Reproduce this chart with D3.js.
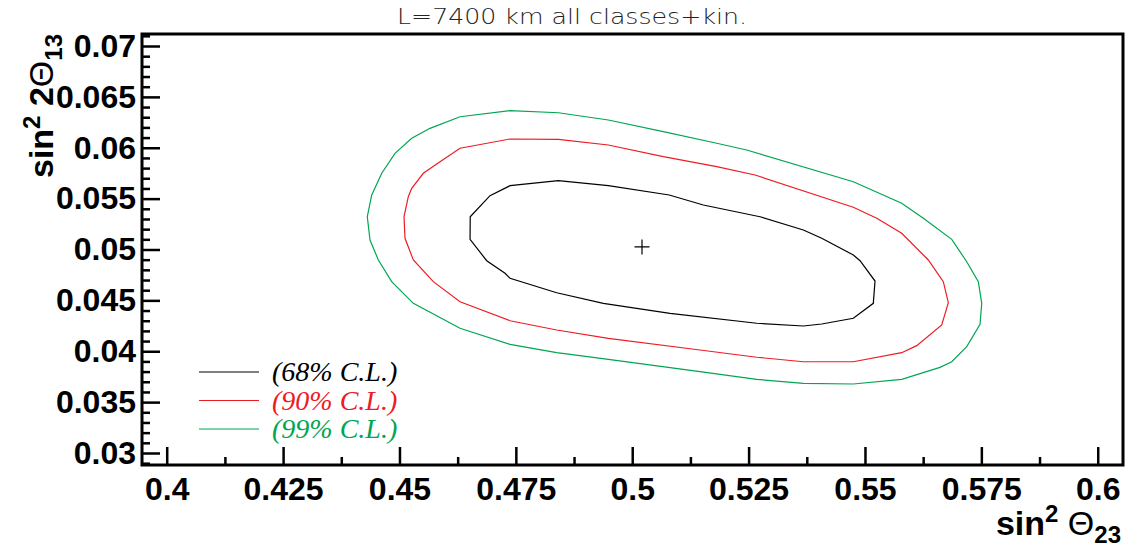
<!DOCTYPE html>
<html>
<head>
<meta charset="utf-8">
<script src="https://cdn.jsdelivr.net/npm/d3@7"></script>
<style>
  body { margin: 0; background: #fff; }
</style>
</head>
<body>
<svg id="chart" width="1139" height="551"></svg>
<script>
const xMajor = [0.4, 0.425, 0.45, 0.475, 0.5, 0.525, 0.55, 0.575, 0.6]
const xMinor = [0.4125, 0.4375, 0.4625, 0.4875, 0.5125, 0.5375, 0.5625, 0.5875]
const yMajor = [0.03, 0.035, 0.04, 0.045, 0.05, 0.055, 0.06, 0.065, 0.07]
const yMinor = [0.029, 0.031, 0.032, 0.033, 0.034, 0.036, 0.037, 0.038, 0.039, 0.041, 0.042, 0.043, 0.044,
  0.046, 0.047, 0.048, 0.049, 0.051, 0.052, 0.053, 0.054, 0.056, 0.057, 0.058, 0.059,
  0.061, 0.062, 0.063, 0.064, 0.066, 0.067, 0.068, 0.069, 0.071]

// best fit point
const bestFit = [0.5021, 0.05025]

// contours, [sin^2 th23, sin^2 2th13]
const cl68 = [
  [0.4652, 0.05322], [0.46945, 0.05529], [0.47375, 0.05627], [0.48413, 0.05676], [0.49487, 0.05627],
  [0.50795, 0.05536], [0.51527, 0.05437], [0.52745, 0.05322], [0.53676, 0.05192], [0.54071, 0.0511],
  [0.5475, 0.04946], [0.54894, 0.0489], [0.55216, 0.0469], [0.55179, 0.04471], [0.5475, 0.04324],
  [0.54071, 0.04268], [0.53676, 0.04248], [0.52675, 0.04275], [0.50812, 0.04373], [0.49379, 0.04471],
  [0.48378, 0.04575], [0.47375, 0.04717], [0.47268, 0.04766], [0.46874, 0.0489], [0.46516, 0.051]
]
const cl90 = [
  [0.45098, 0.05322], [0.4519, 0.05519], [0.45263, 0.05601], [0.45512, 0.05749], [0.45871, 0.05863],
  [0.46301, 0.05995], [0.47375, 0.06086], [0.48413, 0.06083], [0.49487, 0.06027], [0.50668, 0.05912],
  [0.51815, 0.05814], [0.52638, 0.05732], [0.5475, 0.05415], [0.55253, 0.05307], [0.55789, 0.05159],
  [0.56361, 0.04897], [0.56683, 0.04684], [0.56791, 0.04477], [0.56649, 0.04258], [0.56112, 0.04055],
  [0.55789, 0.03986], [0.5475, 0.03897], [0.53676, 0.03897], [0.52675, 0.03941], [0.51456, 0.04012],
  [0.49487, 0.04127], [0.48378, 0.04209], [0.47375, 0.043], [0.46301, 0.04487], [0.45727, 0.04684],
  [0.45298, 0.04897], [0.45119, 0.0511]
]
const cl99 = [
  [0.44309, 0.05322], [0.44404, 0.05536], [0.44619, 0.05749], [0.44904, 0.05945], [0.45263, 0.06093],
  [0.45656, 0.06191], [0.46301, 0.06305], [0.47375, 0.06364], [0.48413, 0.06344], [0.49487, 0.06273],
  [0.50668, 0.06158], [0.51815, 0.06044], [0.5246, 0.05978], [0.5475, 0.05666], [0.55789, 0.05454],
  [0.56254, 0.05307], [0.56864, 0.051], [0.57186, 0.0488], [0.57435, 0.04684], [0.57508, 0.04471],
  [0.57472, 0.04265], [0.57186, 0.04045], [0.56864, 0.03897], [0.56612, 0.03842], [0.55789, 0.03724],
  [0.5475, 0.03678], [0.53676, 0.03685], [0.52675, 0.03724], [0.51456, 0.03799], [0.49487, 0.03921],
  [0.48378, 0.03986], [0.47375, 0.04068], [0.46301, 0.04226], [0.45298, 0.04471], [0.44833, 0.04684],
  [0.44546, 0.04897], [0.44367, 0.05093]
]
const contours = [cl68, cl90, cl99]
const legendLabels = ["(68% C.L.)", "(90% C.L.)", "(99% C.L.)"]
const colors = ["#000000", "#ed1c24", "#00a650"]

let svg = d3.select("#chart")
let width = +svg.attr("width")
let height = +svg.attr("height")
let margin = { top: 34, right: 16, bottom: 86, left: 142 }
let w = width - margin.left - margin.right
let h = height - margin.top - margin.bottom

let xScale = d3.scaleLinear().domain([0.39469, 0.60543]).range([0, w])
let yScale = d3.scaleLinear().domain([0.02882, 0.07118]).range([h, 0])

let pane = svg.append("g").attr("transform", `translate(${margin.left}, ${margin.top})`)

// title
svg.append("text")
  .attr("x", 572)
  .attr("y", 24)
  .attr("text-anchor", "middle")
  .attr("font-family", "DejaVu Sans")
  .attr("font-weight", 200)
  .attr("font-size", "21px")
  .attr("textLength", 350)
  .attr("lengthAdjust", "spacingAndGlyphs")
  .attr("fill", "#222")
  .text("L=7400 km all classes+kin.")

// axes, ticks point inward
let fmt = d => d3.format("")(+d.toFixed(4))
let xg = pane.append("g").attr("transform", `translate(0, ${h})`)
xg.call(d3.axisBottom(xScale).tickValues(xMajor).tickSize(-18).tickPadding(12).tickFormat(fmt))
xg.append("g").call(d3.axisBottom(xScale).tickValues(xMinor).tickSize(-8).tickFormat(""))
let yg = pane.append("g")
yg.call(d3.axisLeft(yScale).tickValues(yMajor).tickSize(-18).tickPadding(6).tickFormat(fmt))
yg.append("g").call(d3.axisLeft(yScale).tickValues(yMinor).tickSize(-8).tickFormat(""))

pane.selectAll(".domain").remove()
pane.selectAll(".tick line").attr("stroke", "#000").attr("stroke-width", 2.5)
pane.selectAll(".tick text")
  .attr("font-family", "'Liberation Sans', Arial, sans-serif")
  .attr("font-weight", "bold")
  .attr("font-size", "32px")
  .attr("fill", "#000")

// frame
pane.append("rect")
  .attr("width", w)
  .attr("height", h)
  .attr("fill", "none")
  .attr("stroke", "#000")
  .attr("stroke-width", 3)

// contours
let line = d3.line()
  .x(d => xScale(d[0]))
  .y(d => yScale(d[1]))
  .curve(d3.curveLinearClosed)
pane.selectAll(".contour")
  .data(contours)
  .enter()
  .append("path")
  .classed("contour", true)
  .attr("d", d => line(d))
  .attr("fill", "none")
  .attr("stroke", (d, i) => colors[i])
  .attr("stroke-width", 1.2)

// best fit marker
let bx = xScale(bestFit[0])
let by = yScale(bestFit[1])
pane.append("path")
  .attr("d", `M${bx - 7.5},${by}H${bx + 7.5}M${bx},${by - 7.5}V${by + 7.5}`)
  .attr("stroke", "#000")
  .attr("stroke-width", 1.2)

// legend
let legend = svg.append("g").attr("transform", "translate(199, 372)")
let item = legend.selectAll(".item")
  .data(legendLabels)
  .enter()
  .append("g")
  .classed("item", true)
  .attr("transform", (d, i) => `translate(0, ${i * 28.5})`)
item.append("line")
  .attr("x1", 0)
  .attr("x2", 60)
  .attr("stroke", (d, i) => colors[i])
  .attr("stroke-width", 1.2)
item.append("text")
  .attr("x", 73)
  .attr("dy", "0.33em")
  .attr("font-family", "'Liberation Serif', 'Times New Roman', serif")
  .attr("font-style", "italic")
  .attr("font-size", "28px")
  .attr("fill", (d, i) => colors[i])
  .text(d => d)

// axis titles
let xt = svg.append("text")
  .attr("x", margin.left + w - 2)
  .attr("y", 535)
  .attr("text-anchor", "end")
  .attr("font-family", "'Liberation Sans', Arial, sans-serif")
  .attr("font-weight", "bold")
  .attr("font-size", "34px")
xt.append("tspan").text("sin")
xt.append("tspan").attr("dy", -13).attr("font-size", "24px").text("2")
xt.append("tspan").attr("dy", 13).attr("font-weight", "normal").text(" Θ")
xt.append("tspan").attr("dy", 8).attr("font-size", "24px").text("23")

let yt = svg.append("text")
  .attr("transform", "translate(53, 34) rotate(-90)")
  .attr("text-anchor", "end")
  .attr("font-family", "'Liberation Sans', Arial, sans-serif")
  .attr("font-weight", "bold")
  .attr("font-size", "34px")
yt.append("tspan").text("sin")
yt.append("tspan").attr("dy", -13).attr("font-size", "24px").text("2")
yt.append("tspan").attr("dy", 13).text(" 2")
yt.append("tspan").attr("font-weight", "normal").text("Θ")
yt.append("tspan").attr("dy", 9).attr("font-size", "24px").text("13")
</script>
</body>
</html>
